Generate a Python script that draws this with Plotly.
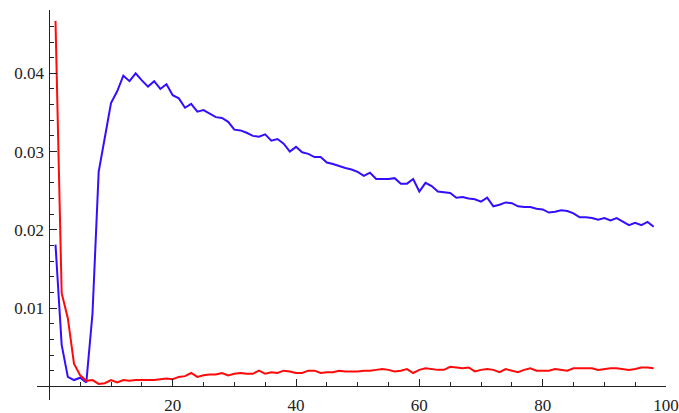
import plotly.graph_objects as go

x_vals = list(range(1, 99))

blue_vals = [
    0.0181, 0.0053, 0.0012, 0.0008, 0.0011, 0.0005, 0.0093, 0.0274, 0.0318, 0.0362,
    0.0377, 0.0397, 0.0390, 0.0400, 0.0391, 0.0383, 0.0390, 0.0380, 0.0386, 0.0372,
    0.0368, 0.0356, 0.0361, 0.0351, 0.0353, 0.0349, 0.0344, 0.0343, 0.0338, 0.0328,
    0.0327, 0.0324, 0.0320, 0.0319, 0.0322, 0.0314, 0.0316, 0.0310, 0.0300, 0.0306,
    0.0299, 0.0297, 0.0293, 0.0293, 0.0286, 0.0284, 0.0281, 0.0279, 0.0277, 0.0274,
    0.0269, 0.0273, 0.0265, 0.0265, 0.0265, 0.0266, 0.0259, 0.0259, 0.0265, 0.0249,
    0.0260, 0.0256, 0.0249, 0.0248, 0.0247, 0.0241, 0.0242, 0.0240, 0.0239, 0.0236,
    0.0241, 0.0230, 0.0232, 0.0235, 0.0234, 0.0230, 0.0229, 0.0229, 0.0227, 0.0226,
    0.0222, 0.0223, 0.0225, 0.0224, 0.0221, 0.0216, 0.0216, 0.0215, 0.0213, 0.0215,
    0.0212, 0.0215, 0.0210, 0.0206, 0.0209, 0.0206, 0.0210, 0.0204,
]

red_vals = [
    0.0467, 0.0119, 0.0087, 0.0029, 0.0014, 0.0007, 0.0008, 0.0003, 0.0004, 0.0008,
    0.0005, 0.0008, 0.0007, 0.0008, 0.0008, 0.0008, 0.0008, 0.0009, 0.0010, 0.0009,
    0.0012, 0.0013, 0.0017, 0.0012, 0.0014, 0.0015, 0.0015, 0.0017, 0.0014, 0.0016,
    0.0017, 0.0016, 0.0016, 0.0020, 0.0016, 0.0018, 0.0017, 0.0020, 0.0019, 0.0017,
    0.0017, 0.0020, 0.0020, 0.0017, 0.0018, 0.0018, 0.0020, 0.0019, 0.0019, 0.0019,
    0.0020, 0.0020, 0.0021, 0.0022, 0.0021, 0.0019, 0.0020, 0.0022, 0.0017, 0.0021,
    0.0023, 0.0022, 0.0021, 0.0021, 0.0025, 0.0024, 0.0023, 0.0024, 0.0019, 0.0021,
    0.0022, 0.0021, 0.0018, 0.0022, 0.0020, 0.0018, 0.0021, 0.0023, 0.0020, 0.0020,
    0.0020, 0.0022, 0.0021, 0.0020, 0.0023, 0.0023, 0.0023, 0.0023, 0.0021, 0.0022,
    0.0023, 0.0023, 0.0022, 0.0021, 0.0022, 0.0024, 0.0024, 0.0023,
]

x_ticks = [20, 40, 60, 80, 100]
y_ticks = [0.01, 0.02, 0.03, 0.04]
y_tick_text = ["0.01", "0.02", "0.03", "0.04"]

x_range = [-2, 100]
y_range = [-0.00175, 0.04809]

fig = go.Figure()
fig.add_trace(go.Scatter(x=x_vals, y=blue_vals, mode="lines",
                         line=dict(color="rgb(50,15,255)", width=2)))
fig.add_trace(go.Scatter(x=x_vals, y=red_vals, mode="lines",
                         line=dict(color="rgb(255,10,10)", width=2)))

axis_color = "#222222"
font = dict(family="Times New Roman, Tinos, DejaVu Serif, serif", size=17, color="#222222")

fig.update_layout(
    width=679, height=413,
    margin=dict(l=37, r=13, t=10, b=13, pad=0, autoexpand=False),
    paper_bgcolor="white", plot_bgcolor="white",
    showlegend=False,
    font=font,
    xaxis=dict(
        range=x_range, anchor="free", automargin=False,
        position=(0 - y_range[0]) / (y_range[1] - y_range[0]),
        showline=True, linecolor=axis_color, linewidth=1,
        showgrid=False, zeroline=False,
        tickmode="array", tickvals=x_ticks, ticktext=[str(v) for v in x_ticks],
        ticks="inside", ticklen=7, tickcolor=axis_color, tickwidth=1,
        tickfont=font, ticklabelstandoff=3, ticklabeloverflow="allow",
        minor=dict(tickmode="linear", tick0=0, dtick=5, ticks="inside",
                   ticklen=4, tickcolor=axis_color, tickwidth=1),
    ),
    yaxis=dict(
        range=y_range, anchor="free", automargin=False,
        position=(0 - x_range[0]) / (x_range[1] - x_range[0]),
        showline=True, linecolor=axis_color, linewidth=1,
        showgrid=False, zeroline=False,
        tickmode="array", tickvals=y_ticks, ticktext=y_tick_text,
        ticks="inside", ticklen=7, tickcolor=axis_color, tickwidth=1,
        tickfont=font, ticklabelstandoff=2, ticklabeloverflow="allow",
        minor=dict(tickmode="linear", tick0=0, dtick=0.002, ticks="inside",
                   ticklen=4, tickcolor=axis_color, tickwidth=1),
    ),
)

fig.write_html("out.html",
               config={"displayModeBar": False},
               post_script="document.body.style.margin='0';document.body.style.overflow='hidden';")
